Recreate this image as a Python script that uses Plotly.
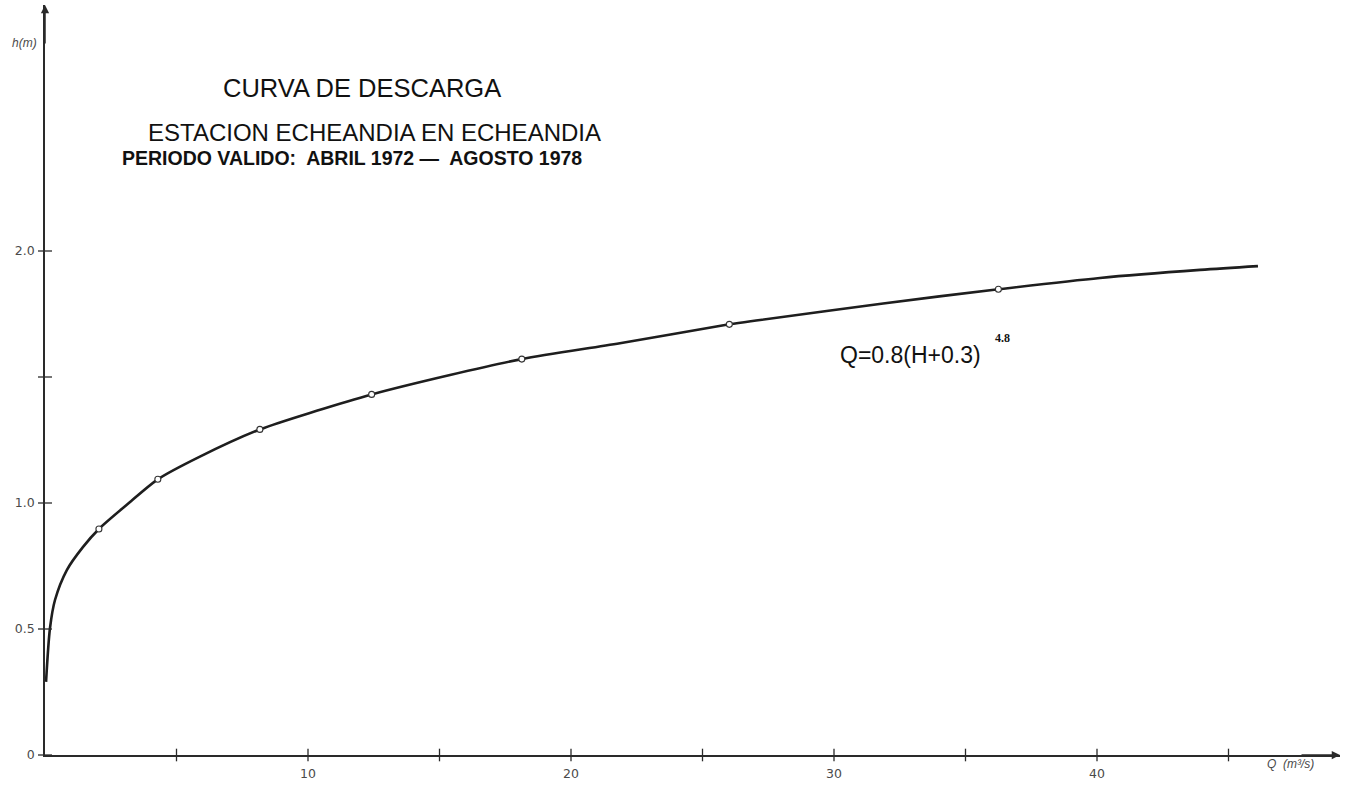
import plotly.graph_objects as go

# Rating curve traced along its length: discharge Q (m3/s) vs stage h (m)
curve_q = [0.04, 0.19, 0.38, 0.83, 1.44, 2.05, 3.10, 4.29, 5.89, 8.17, 10.33,
           12.42, 15.40, 18.13, 21.86, 26.02, 27.19, 31.87, 36.25, 40.11, 43.92, 46.12]
curve_h = [0.290, 0.504, 0.615, 0.734, 0.825, 0.897, 0.992, 1.094, 1.184, 1.292, 1.366,
           1.431, 1.508, 1.571, 1.634, 1.709, 1.726, 1.792, 1.848, 1.893, 1.925, 1.940]

# Gauged points marked on the curve
gauged_q = [2.05, 4.29, 8.17, 12.42, 18.13, 26.02, 36.25]
gauged_h = [0.897, 1.094, 1.292, 1.431, 1.571, 1.709, 1.848]

# Axis ticks and their labels
x_ticks = [5, 10, 15, 20, 25, 30, 35, 40, 45]
x_labels = ["", "10", "", "20", "", "30", "", "40", ""]
y_ticks = [0, 0.5, 1.0, 1.5, 2.0]
y_labels = ["0", "0.5", "1.0", "", "2.0"]

W, H = 1357, 801
ML, MR, MT, MB = 45, 17, 5, 46
PX_PER_Q = 26.3
PX_PER_H = 252.0
x_max = (W - ML - MR) / PX_PER_Q
y_max = (H - MT - MB) / PX_PER_H

AX = "#2a2a2a"
LBL = "#4a4a4a"

fig = go.Figure()

fig.add_trace(go.Scatter(
    x=curve_q, y=curve_h, mode="lines",
    line=dict(color="#1e1e1e", width=2.6, shape="spline", smoothing=0.8),
    hoverinfo="skip", showlegend=False,
))
fig.add_trace(go.Scatter(
    x=gauged_q, y=gauged_h, mode="markers",
    marker=dict(symbol="circle", size=6, color="white",
                line=dict(color="#333333", width=1.1)),
    showlegend=False,
))

# Tick marks crossing the axes
fig.add_trace(go.Scatter(
    x=[0] * len(y_ticks), y=y_ticks, mode="markers", cliponaxis=False,
    marker=dict(symbol="line-ew-open", size=10, color=AX,
                line=dict(color=AX, width=1.3)),
    hoverinfo="skip", showlegend=False,
))
fig.add_trace(go.Scatter(
    x=x_ticks, y=[0] * len(x_ticks), mode="markers", cliponaxis=False,
    marker=dict(symbol="line-ns-open", size=9, color=AX,
                line=dict(color=AX, width=1.3)),
    hoverinfo="skip", showlegend=False,
))

def paper_x(px):
    return (px - ML) / (W - ML - MR)

def paper_y(py):
    return (H - MB - py) / (H - MT - MB)

text_font = "Liberation Sans, Arial, sans-serif"
annotations = [
    dict(text="CURVA DE DESCARGA", x=paper_x(362), y=paper_y(88),
         font=dict(family=text_font, size=25.5, color="#111")),
    dict(text="ESTACION ECHEANDIA EN ECHEANDIA", x=paper_x(374), y=paper_y(132),
         font=dict(family=text_font, size=24, color="#111")),
    dict(text="<b>PERIODO VALIDO:  ABRIL 1972 \u2014  AGOSTO 1978</b>",
         x=paper_x(352), y=paper_y(158),
         font=dict(family=text_font, size=19.5, color="#111")),
    dict(text="Q=0.8(H+0.3)", x=paper_x(910), y=paper_y(355),
         font=dict(family=text_font, size=23, color="#111")),
    dict(text="<b>4.8</b>", x=paper_x(1002), y=paper_y(338),
         font=dict(family="Liberation Serif, serif", size=12, color="#111")),
    dict(text="<i>h(m)</i>", x=paper_x(24), y=paper_y(43),
         font=dict(family=text_font, size=12, color=LBL)),
    dict(text="<i>Q  (m\u00b3/s)</i>", x=paper_x(1290), y=paper_y(764),
         font=dict(family=text_font, size=12, color=LBL)),
]
for a in annotations:
    a.update(xref="paper", yref="paper", showarrow=False,
             xanchor="center", yanchor="middle")

# Arrow heads at the ends of both axes
annotations.append(dict(x=1, y=0, xref="paper", yref="paper", ax=-40, ay=0,
                        showarrow=True, arrowhead=2, arrowsize=1.1,
                        arrowwidth=1.5, arrowcolor=AX, text=""))
annotations.append(dict(x=0, y=1, xref="paper", yref="paper", ax=0, ay=40,
                        showarrow=True, arrowhead=2, arrowsize=1.1,
                        arrowwidth=1.5, arrowcolor=AX, text=""))

fig.update_layout(
    width=W, height=H,
    margin=dict(l=ML, r=MR, t=MT, b=MB, pad=0),
    paper_bgcolor="white", plot_bgcolor="white",
    annotations=annotations,
    showlegend=False,
    xaxis=dict(range=[0, x_max], showgrid=False, zeroline=False,
               showline=True, linecolor=AX, linewidth=1.6,
               tickmode="array", tickvals=x_ticks, ticktext=x_labels,
               ticks="", tickfont=dict(family="DejaVu Sans", size=12.5, color=LBL),
               ticklabelstandoff=6),
    yaxis=dict(range=[0, y_max], showgrid=False, zeroline=False,
               showline=True, linecolor=AX, linewidth=1.6,
               tickmode="array", tickvals=y_ticks, ticktext=y_labels,
               ticks="", tickfont=dict(family="DejaVu Sans", size=12.5, color=LBL),
               ticklabelstandoff=6),
)

fig.write_html("out.html")
